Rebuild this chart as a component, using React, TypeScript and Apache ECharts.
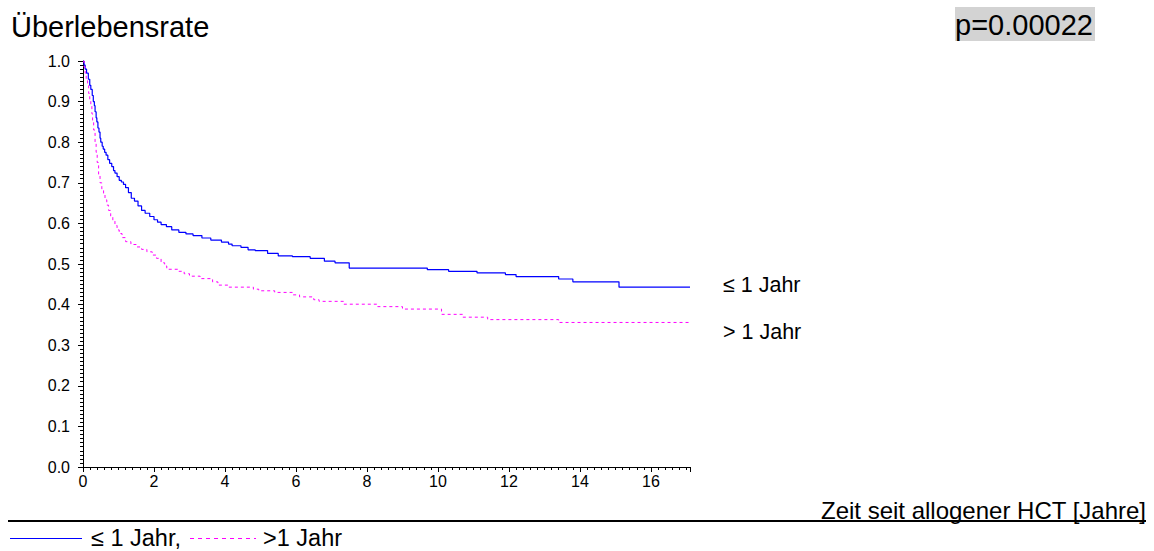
import React, { useEffect, useRef } from "react";
import * as echarts from "echarts";

const FONT = "'Liberation Sans', Arial, sans-serif";

const titleText = "Überlebensrate";
const pValueText = "p=0.00022";
const xAxisTitle = "Zeit seit allogener HCT [Jahre]";
const seriesNames = ["≤ 1 Jahr", "> 1 Jahr"];
const legendTexts = ["≤ 1 Jahr,", ">1 Jahr"];

const blueTime = [0, 0.03, 0.06, 0.1, 0.15, 0.19, 0.22, 0.26, 0.29, 0.32, 0.34, 0.37, 0.39, 0.42, 0.45, 0.48, 0.5, 0.54, 0.57, 0.61, 0.65, 0.7, 0.75, 0.81, 0.86, 0.9, 0.96, 1.02, 1.08, 1.14, 1.2, 1.28, 1.36, 1.45, 1.55, 1.65, 1.75, 1.88, 2.0, 2.1, 2.2, 2.35, 2.5, 2.7, 2.9, 3.1, 3.35, 3.6, 3.9, 4.1, 4.2, 4.45, 4.65, 4.85, 5.2, 5.5, 5.9, 6.4, 6.8, 7.1, 7.5, 9.7, 10.3, 11.1, 11.9, 12.2, 13.4, 13.8, 15.1, 17.1];
const blueSurv = [1.0, 0.99, 0.98, 0.97, 0.955, 0.94, 0.93, 0.915, 0.9, 0.89, 0.875, 0.86, 0.85, 0.835, 0.825, 0.81, 0.8, 0.79, 0.783, 0.775, 0.768, 0.757, 0.748, 0.74, 0.73, 0.724, 0.715, 0.706, 0.702, 0.696, 0.688, 0.676, 0.662, 0.655, 0.643, 0.632, 0.625, 0.617, 0.609, 0.603, 0.597, 0.592, 0.584, 0.578, 0.574, 0.57, 0.564, 0.559, 0.554, 0.549, 0.545, 0.541, 0.535, 0.533, 0.526, 0.52, 0.518, 0.514, 0.507, 0.503, 0.49, 0.486, 0.482, 0.478, 0.474, 0.469, 0.463, 0.456, 0.443, 0.443];

const magentaTime = [0, 0.03, 0.06, 0.09, 0.13, 0.16, 0.19, 0.22, 0.25, 0.27, 0.3, 0.34, 0.37, 0.4, 0.44, 0.48, 0.53, 0.58, 0.62, 0.67, 0.72, 0.78, 0.84, 0.9, 0.96, 1.02, 1.1, 1.2, 1.35, 1.5, 1.65, 1.8, 1.95, 2.07, 2.2, 2.3, 2.36, 2.7, 2.85, 3.0, 3.3, 3.65, 3.8, 4.1, 4.8, 4.95, 5.4, 5.9, 6.1, 6.5, 6.65, 7.35, 8.3, 9.0, 10.1, 10.7, 11.4, 13.4, 17.1];
const magentaSurv = [1.0, 0.985, 0.97, 0.955, 0.94, 0.92, 0.905, 0.89, 0.87, 0.85, 0.83, 0.8, 0.775, 0.75, 0.72, 0.7, 0.685, 0.67, 0.658, 0.645, 0.632, 0.618, 0.606, 0.595, 0.584, 0.575, 0.565, 0.555, 0.548, 0.542, 0.536, 0.53, 0.522, 0.514, 0.503, 0.495, 0.487, 0.482, 0.476, 0.47, 0.464, 0.456, 0.448, 0.443, 0.438, 0.434, 0.43, 0.424, 0.419, 0.412, 0.408, 0.401, 0.395, 0.389, 0.376, 0.369, 0.363, 0.356, 0.356];

const BLUE = "#0000ff";
const MAGENTA = "#ff00ff";

export default function App() {
  const ref = useRef<HTMLDivElement>(null);
  useEffect(() => {
    if (!ref.current) return;
    const chart = echarts.init(ref.current, null, { renderer: "svg" });
    const blueData = blueTime.map((t, i) => [t, blueSurv[i]]);
    const magData = magentaTime.map((t, i) => [t, magentaSurv[i]]);
    const axisLabelStyle = { color: "#000", fontSize: 16, fontFamily: FONT };
    chart.setOption({
      animation: false,
      backgroundColor: "#fff",
      grid: { left: 83, right: 464, top: 61, bottom: 84, containLabel: false },
      xAxis: {
        type: "value",
        min: 0,
        max: 17.1,
        interval: 2,
        axisLine: { show: true, lineStyle: { color: "#000", width: 1 } },
        axisTick: { show: true, length: 5, lineStyle: { color: "#000" } },
        minorTick: { show: true, splitNumber: 10, length: 3, lineStyle: { color: "#000" } },
        splitLine: { show: false },
        minorSplitLine: { show: false },
        axisLabel: { ...axisLabelStyle, margin: 6, showMaxLabel: false },
      },
      yAxis: {
        type: "value",
        min: 0,
        max: 1,
        interval: 0.1,
        axisLine: { show: true, lineStyle: { color: "#000", width: 1 } },
        axisTick: { show: true, length: 5, lineStyle: { color: "#000" } },
        minorTick: { show: true, splitNumber: 10, length: 3, lineStyle: { color: "#000" } },
        splitLine: { show: false },
        axisLabel: { ...axisLabelStyle, margin: 13, formatter: (v: number) => v.toFixed(1) },
      },
      series: [
        {
          name: seriesNames[0],
          type: "line",
          step: "end",
          showSymbol: false,
          data: blueData,
          lineStyle: { color: BLUE, width: 1.2 },
          itemStyle: { color: BLUE },
        },
        {
          name: seriesNames[1],
          type: "line",
          step: "end",
          showSymbol: false,
          data: magData,
          lineStyle: { color: MAGENTA, width: 1, type: [3, 3] },
          itemStyle: { color: MAGENTA },
        },
      ],
      graphic: [
        {
          type: "text",
          x: 11,
          y: 27,
          style: { text: titleText, fontSize: 29, fontFamily: FONT, fill: "#000", verticalAlign: "middle" },
        },
        {
          type: "rect",
          shape: { x: 955, y: 7, width: 140, height: 34 },
          style: { fill: "#d3d3d3" },
        },
        {
          type: "text",
          x: 955,
          y: 25,
          style: { text: pValueText, fontSize: 29, fontFamily: FONT, fill: "#000", verticalAlign: "middle" },
        },
        {
          type: "text",
          x: 723,
          y: 285,
          style: { text: seriesNames[0], fontSize: 21.5, fontFamily: FONT, fill: "#000", verticalAlign: "middle" },
        },
        {
          type: "text",
          x: 723,
          y: 332,
          style: { text: seriesNames[1], fontSize: 21.5, fontFamily: FONT, fill: "#000", verticalAlign: "middle" },
        },
        {
          type: "text",
          x: 1146,
          y: 510,
          style: { text: xAxisTitle, fontSize: 24, fontFamily: FONT, fill: "#000", align: "right", verticalAlign: "middle" },
        },
        {
          type: "line",
          shape: { x1: 8, y1: 521, x2: 1146, y2: 521 },
          style: { stroke: "#000", lineWidth: 2 },
        },
        {
          type: "line",
          shape: { x1: 10, y1: 538.5, x2: 82, y2: 538.5 },
          style: { stroke: BLUE, lineWidth: 1 },
        },
        {
          type: "text",
          x: 91,
          y: 538,
          style: { text: legendTexts[0], fontSize: 23.5, fontFamily: FONT, fill: "#000", verticalAlign: "middle" },
        },
        {
          type: "line",
          shape: { x1: 190, y1: 538.5, x2: 256, y2: 538.5 },
          style: { stroke: MAGENTA, lineWidth: 1, lineDash: [4, 4] },
        },
        {
          type: "text",
          x: 263,
          y: 538,
          style: { text: legendTexts[1], fontSize: 23.5, fontFamily: FONT, fill: "#000", verticalAlign: "middle" },
        },
      ],
    });
    return () => chart.dispose();
  }, []);
  return (
    <div
      ref={ref}
      style={{ position: "fixed", left: 0, top: 0, width: 1154, height: 551, background: "#fff" }}
    />
  );
}
